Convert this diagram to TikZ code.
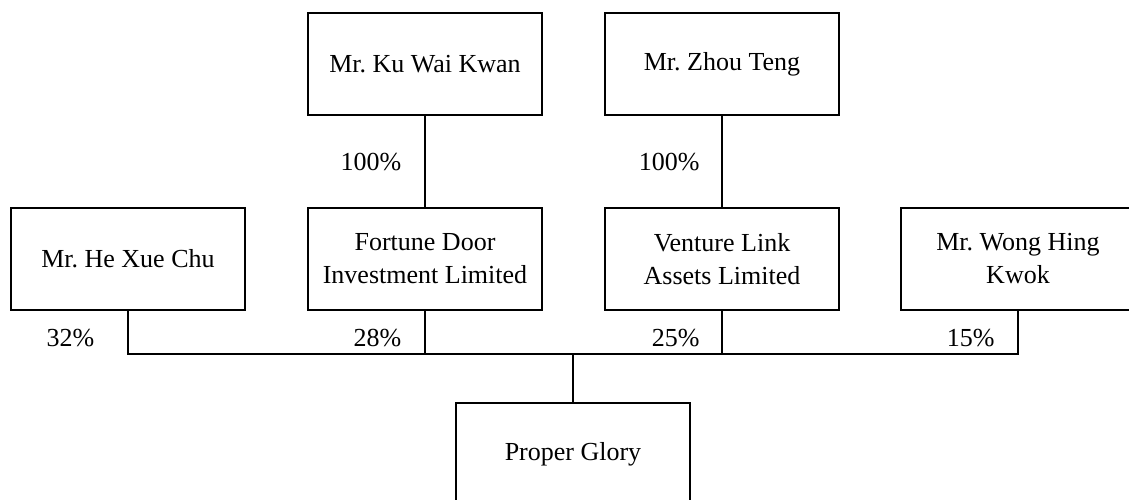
\documentclass[tikz,border=0pt]{standalone}
\usepackage{fontspec}
\setmainfont{Liberation Serif}
\frenchspacing
\tikzset{>=stealth,
  box/.style={draw, minimum width=234pt, minimum height=102pt, inner sep=0pt, align=center, font=\fontsize{26}{33}\selectfont},
  pct/.style={anchor=east, inner sep=0pt, font=\fontsize{26}{33}\selectfont}}

\begin{document}
\begin{tikzpicture}[x=1pt, y=-1pt, line width=1.2pt]
    \useasboundingbox (0,0) rectangle (1129,500);
    \node[box] (K) at (425,64) {Mr. Ku Wai Kwan};
    \node[box] (Z) at (722,64) {Mr. Zhou Teng};
    \node[box] (H) at (128,259) {Mr. He Xue Chu};
    \node[box] (F) at (425,259) {Fortune Door\\Investment Limited};
    \node[box] (V) at (722,259) {Venture Link\\Assets Limited};
    \node[box] (W) at (1018,259) {Mr. Wong Hing\\Kwok};
    \node[box] (G) at (573,454) {Proper Glory};
    \coordinate (B) at (573,354);
    \draw (K) -- (F);
    \draw (Z) -- (V);
    \draw (H.south) |- (B) -| (W.south);
    \draw (F.south) -- (F.south |- B);
    \draw (V.south) -- (V.south |- B);
    \draw (B) -- (G);
    \node[pct] (pK) at (402,162) {100\%};
    \node[pct] (pZ) at (700,162) {100\%};
    \node[pct] (pH) at (95,338) {32\%};
    \node[pct] (pF) at (402,338) {28\%};
    \node[pct] (pV) at (700,338) {25\%};
    \node[pct] (pW) at (995,338) {15\%};
    \end{tikzpicture}
\end{document}
